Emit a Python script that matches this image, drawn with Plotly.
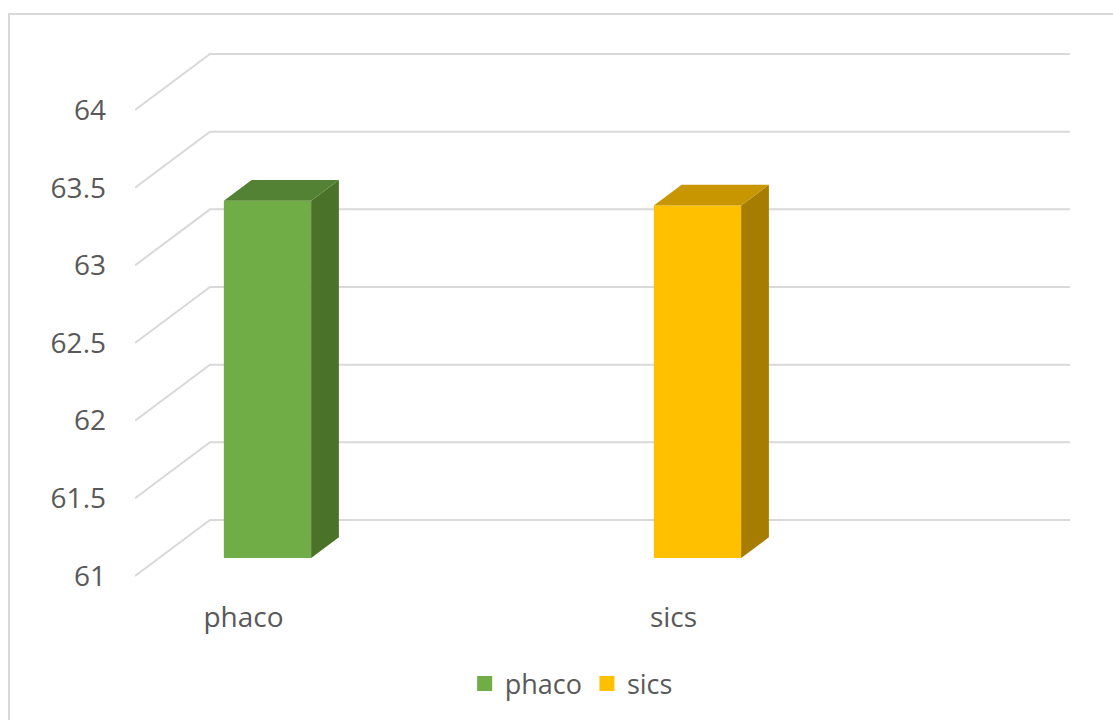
import plotly.graph_objects as go

# ---- data ----
categories = ["phaco", "sics"]
values = [63.30, 63.27]
tick_values = [61, 61.5, 62, 62.5, 63, 63.5, 64]
tick_labels = ["61", "61.5", "62", "62.5", "63", "63.5", "64"]

front_colors = ["#70AD47", "#FFC000"]
top_colors = ["#548235", "#C89700"]
side_colors = ["#4A7229", "#A67D00"]

# ---- pseudo-3D geometry (in axis units) ----
PX_PER_CAT = 430.0
PX_PER_VAL = 155.3
DX = 75 / PX_PER_CAT      # full depth, horizontal shift (category units)
DY = 56 / PX_PER_VAL      # full depth, vertical shift (value units)
D0 = 0.32                 # depth where bar front sits
DD = 0.37                 # bar depth fraction
BAR_W = 0.203
BASE = 61

X_FRONT = -0.2523
X_BACK_END = 1.7477 + DX
X_MIN, X_MAX = X_FRONT, 1.9337
Y_MIN, Y_MAX = 60.871, 64.451

fig = go.Figure()

# gridlines (front diagonal + back wall) as shapes below traces
for t in tick_values:
    fig.add_shape(type="path", xref="x", yref="y", layer="below",
                  path=f"M{X_FRONT},{t} L{X_FRONT + DX},{t + DY} L{X_BACK_END},{t + DY}",
                  line=dict(color="#D9D9D9", width=2))

for i, (cat, v) in enumerate(zip(categories, values)):
    xc = i + D0 * DX
    yb = BASE + D0 * DY
    ytop = v + D0 * DY
    xl, xr = xc - BAR_W / 2, xc + BAR_W / 2
    ddx, ddy = DD * DX, DD * DY
    # front face
    fig.add_trace(go.Bar(x=[xc], y=[v - BASE], base=[yb], width=[BAR_W], name=cat,
                         marker=dict(color=front_colors[i], line=dict(width=0)),
                         showlegend=False, hoverinfo="skip"))
    # side face
    fig.add_trace(go.Scatter(x=[xr, xr + ddx, xr + ddx, xr, xr],
                             y=[yb, yb + ddy, ytop + ddy, ytop, yb],
                             fill="toself", fillcolor=side_colors[i], mode="lines",
                             line=dict(width=0, color=side_colors[i]),
                             showlegend=False, hoverinfo="skip"))
    # top face
    fig.add_trace(go.Scatter(x=[xl, xr, xr + ddx, xl + ddx, xl],
                             y=[ytop, ytop, ytop + ddy, ytop + ddy, ytop],
                             fill="toself", fillcolor=top_colors[i], mode="lines",
                             line=dict(width=0, color=top_colors[i]),
                             showlegend=False, hoverinfo="skip"))

# legend entries (square swatches)
for i, cat in enumerate(categories):
    fig.add_trace(go.Scatter(x=[None], y=[None], mode="markers", name=cat,
                             marker=dict(symbol="square", size=15, color=front_colors[i]),
                             showlegend=True, hoverinfo="skip"))

# chart border
fig.add_shape(type="rect", xref="paper", yref="paper",
              x0=(9 - 135) / 940, x1=1.2, y0=-0.5, y1=(596 - 14) / 556,
              line=dict(color="#D9D9D9", width=2), fillcolor="rgba(0,0,0,0)", layer="below")

font = dict(family="Open Sans", size=28, color="#595959")

fig.update_layout(
    width=1113, height=720,
    margin=dict(l=135, r=38, t=40, b=124),
    paper_bgcolor="white", plot_bgcolor="white",
    font=font,
    barmode="overlay",
    showlegend=True,
    legend=dict(orientation="h", x=0.464, y=-0.158, xanchor="center", yanchor="middle",
                font=dict(family="Open Sans", size=27, color="#595959"),
                itemclick=False, traceorder="normal", itemwidth=30),
    xaxis=dict(range=[X_MIN, X_MAX], showgrid=False, zeroline=False, showline=False,
               tickvals=list(range(len(categories))), ticktext=categories,
               ticks="", fixedrange=True, ticklabelstandoff=2),
    yaxis=dict(range=[Y_MIN, Y_MAX], showgrid=False, zeroline=False, showline=False,
               tickvals=tick_values, ticktext=tick_labels, ticks="",
               ticklabelstandoff=28, fixedrange=True),
)

fig.write_html("out.html")
